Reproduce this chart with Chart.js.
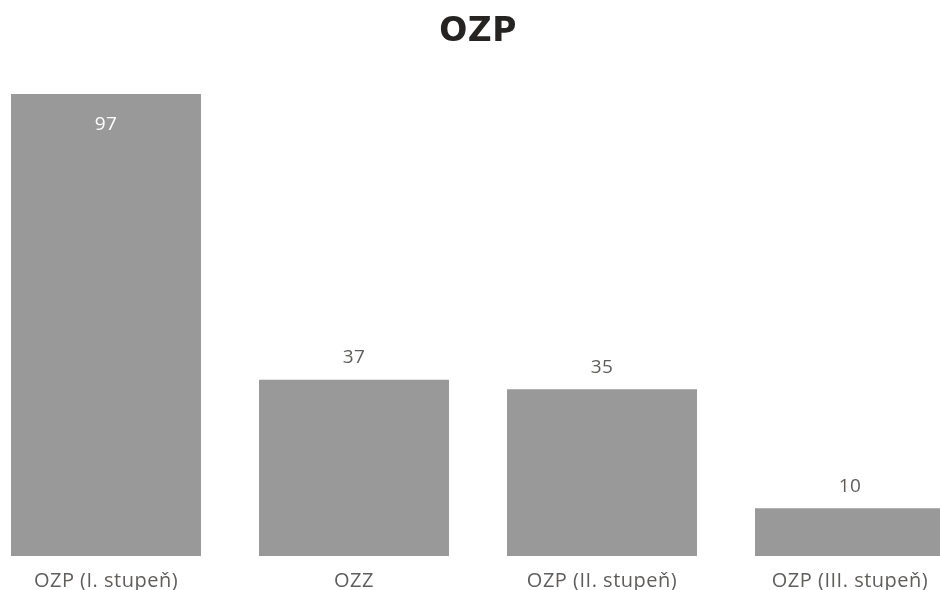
<!DOCTYPE html>
<html lang="cs">
<head>
  <meta charset="UTF-8" />
  <title>OZP</title>
  <script src="https://cdn.jsdelivr.net/npm/chart.js"></script>
  <style>
    html, body { margin: 0; padding: 0; background: #fff; overflow: hidden; }
    body { width: 940px; height: 590px; position: relative; }
    .chart-wrap {
      position: absolute;
      left: -18px;
      top: 0;
      width: 992px;
      height: 606px;
    }
  </style>
</head>
<body>
  <div class="chart-wrap">
    <canvas id="ozpChart"></canvas>
  </div>

  <script>
    const categories = ['OZP (I. stupeň)', 'OZZ', 'OZP (II. stupeň)', 'OZP (III. stupeň)'];
    const values = [97, 37, 35, 10];

    // the reference text is set a little loose, so widen the letters a bit
    const spacing = {
      id: 'spacing',
      beforeLayout(chart) { chart.ctx.letterSpacing = '0.5px'; },
      beforeDraw(chart) { chart.ctx.letterSpacing = '0.5px'; }
    };

    // draws the value above the bar, or inside it when there is no room on top
    const valueLabels = {
      id: 'valueLabels',
      afterDatasetsDraw(chart) {
        const ctx = chart.ctx;
        const meta = chart.getDatasetMeta(0);
        ctx.save();
        ctx.font = '19px "Open Sans", sans-serif';
        ctx.textAlign = 'center';
        ctx.textBaseline = 'middle';
        meta.data.forEach((bar, i) => {
          const inside = bar.y - 40 < chart.chartArea.top;
          ctx.fillStyle = inside ? '#ffffff' : '#605e5c';
          ctx.fillText(values[i], bar.x, inside ? bar.y + 31 : bar.y - 22);
        });
        ctx.restore();
      }
    };

    new Chart(document.getElementById('ozpChart').getContext('2d'), {
      type: 'bar',
      data: {
        labels: categories,
        datasets: [{
          label: 'OZP',
          data: values,
          backgroundColor: '#999999',
          borderWidth: 0,
          categoryPercentage: 1,
          barPercentage: 0.766
        }]
      },
      options: {
        responsive: true,
        maintainAspectRatio: false,
        animation: false,
        layout: { padding: 0 },
        plugins: {
          legend: { display: false },
          tooltip: { enabled: false },
          title: {
            display: true,
            text: 'OZP',
            color: '#252423',
            font: { family: 'DejaVu Sans', size: 33, weight: 'bold' },
            padding: { top: 13, bottom: 27 }
          }
        },
        scales: {
          x: {
            grid: { display: false, drawTicks: false },
            border: { display: false },
            ticks: {
              color: '#605e5c',
              padding: 13,
              autoSkip: false,
              maxRotation: 0,
              minRotation: 0,
              font: { family: 'Open Sans', size: 20 }
            }
          },
          y: {
            display: false,
            min: 0,
            max: 100
          }
        }
      },
      plugins: [spacing, valueLabels]
    });
  </script>
</body>
</html>
